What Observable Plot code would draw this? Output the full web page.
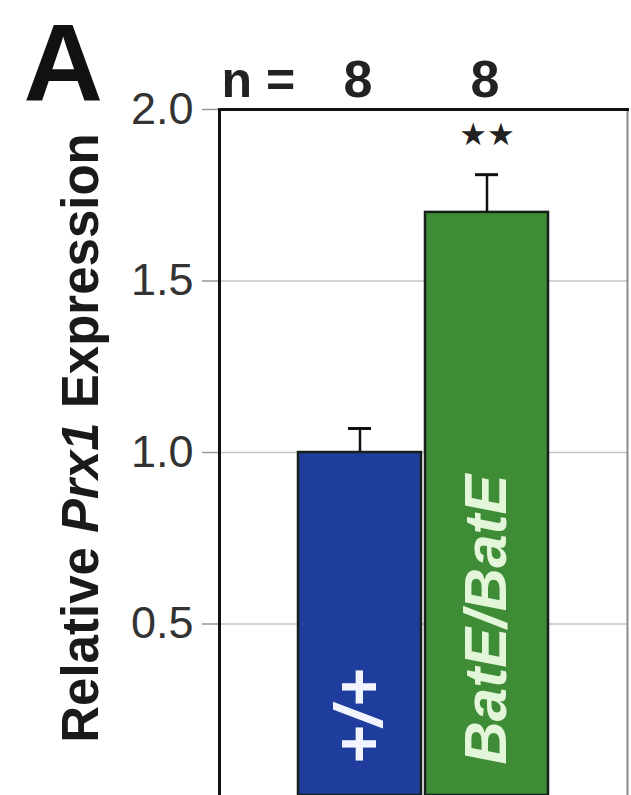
<!DOCTYPE html>
<html>
<head>
<meta charset="utf-8">
<script src="https://cdn.jsdelivr.net/npm/d3@7"></script>
<script src="https://cdn.jsdelivr.net/npm/@observablehq/plot@0.6"></script>
<style>
  html, body { margin: 0; padding: 0; background: #fff; }
  #chart svg { display: block; }
</style>
</head>
<body>
<div id="chart"></div>
<script>
// ---- data ----
const genotypes = ["+/+", "BatE/BatE"];
const means = [1.0, 1.70];
const errors = [0.07, 0.11];
const nCounts = [8, 8];
const significance = ["", "★★"];
const yTicks = [0.5, 1.0, 1.5, 2.0];
const barColors = ["#1f3d9c", "#3f8c36"];
const labelColors = ["#f2f5ff", "#e4f6da"];
const panelLetter = "A";
const yLabelParts = ["Relative ", "Prx1", " Expression"];

const data = genotypes.map((g, i) => ({
  g, mean: means[i], err: errors[i], top: means[i] + errors[i],
  n: nCounts[i], sig: significance[i], color: barColors[i], lc: labelColors[i]
}));

const FONT = "Liberation Sans, Arial, Helvetica, sans-serif";

const plot = Plot.plot({
  width: 631,
  height: 795,
  marginLeft: 219,
  marginTop: 109,
  marginRight: 4,
  marginBottom: 0,
  style: { fontFamily: FONT, background: "#fff", overflow: "visible" },
  x: { domain: genotypes, paddingInner: 0.03, paddingOuter: 0.62, axis: null },
  y: { domain: [0, 2] },
  marks: [
    Plot.gridY(yTicks.filter(t => t < 2), { stroke: "#c4c4c4", strokeOpacity: 1, strokeWidth: 1.5 }),
    Plot.axisY({
      ticks: yTicks, tickSize: 17, tickPadding: 9, fontSize: 45, label: null,
      tickFormat: d3.format(".1f"), color: "#333", stroke: "#999", strokeWidth: 1.5
    }),
    Plot.barY(data, { x: "g", y: "mean", fill: "color", stroke: "#14201a", strokeWidth: 2.5 }),
    Plot.ruleX(data, { x: "g", y1: "mean", y2: "top", stroke: "#111", strokeWidth: 2.5 }),
    Plot.tickY(data, { x: "g", y: "top", stroke: "#111", strokeWidth: 3, insetLeft: 50, insetRight: 50 }),
    Plot.text(data, {
      x: "g", y: 0, text: "g", rotate: -90, textAnchor: "start", lineAnchor: "middle",
      dy: -31, fill: "lc", fontSize: d => d.g === "+/+" ? 66 : 60,
      fontWeight: "bold", fontStyle: "italic"
    }),
    Plot.text(data, {
      x: "g", y: 2, text: "sig", dy: 26, fontSize: 31, fill: "#222",
      fontFamily: "DejaVu Sans"
    }),
    Plot.text(data, {
      x: "g", y: 2, text: d => String(d.n), dy: -13, lineAnchor: "bottom",
      fontSize: 52, fontWeight: 600, fill: "#222", dx: -2
    }),
    Plot.text(["n ="], {
      frameAnchor: "top-left", text: d => d, textAnchor: "start", lineAnchor: "bottom",
      dx: 2, dy: -13, fontSize: 50, fontWeight: 600, fill: "#222"
    }),
    Plot.text([panelLetter], {
      frameAnchor: "top-left", text: d => d, textAnchor: "start", lineAnchor: "bottom",
      dx: -196, dy: -10, fontSize: 110, fontWeight: "bold", fill: "#111"
    }),
    Plot.frame({ anchor: "right", stroke: "#8a8a8a", strokeWidth: 2 }),
    Plot.frame({ anchor: "left", stroke: "#111", strokeWidth: 3 }),
    Plot.frame({ anchor: "top", stroke: "#111", strokeWidth: 3 })
  ]
});

document.getElementById("chart").appendChild(plot);

// rotated y-axis title with italic gene name
const svg = d3.select(plot);
const t = svg.append("text")
  .attr("transform", "translate(98,438) rotate(-90)")
  .attr("text-anchor", "middle")
  .attr("font-family", FONT)
  .attr("font-size", 51)
  .attr("font-weight", "bold")
  .attr("fill", "#1a1a1a");
yLabelParts.forEach((p, i) => {
  t.append("tspan").attr("font-style", i === 1 ? "italic" : "normal").text(p);
});
</script>
</body>
</html>
